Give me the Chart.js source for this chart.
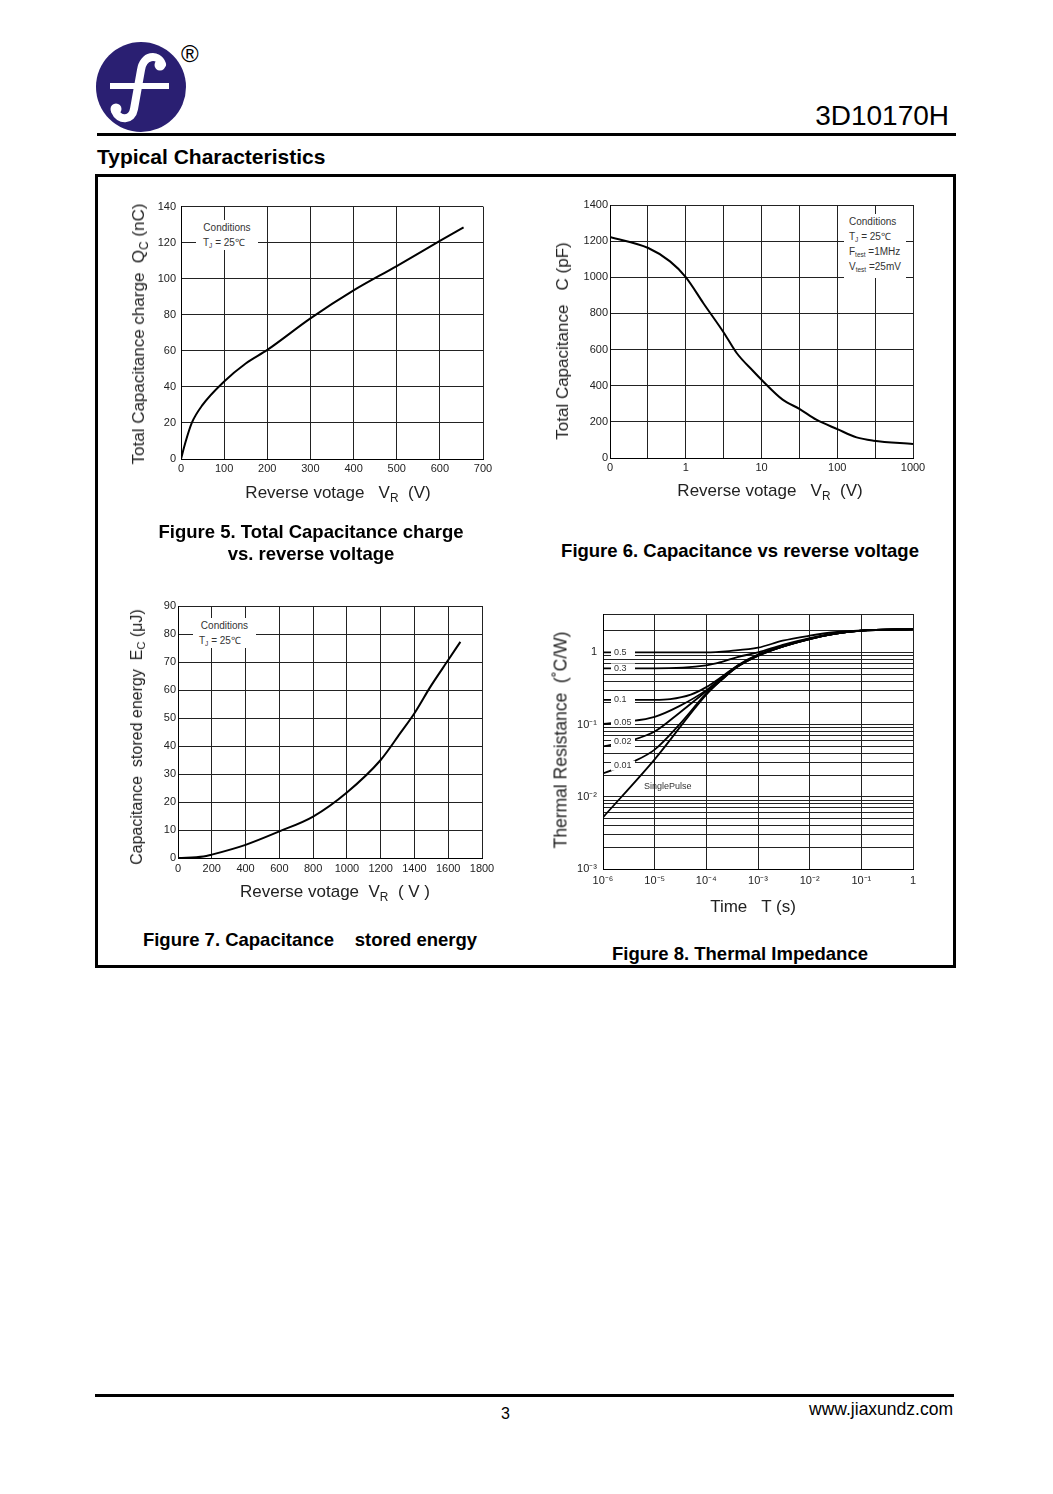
<!DOCTYPE html>
<html>
<head>
<meta charset="utf-8">
<script src="https://cdn.jsdelivr.net/npm/chart.js@4.4.1/dist/chart.umd.min.js"></script>
<style>
body { margin: 0; background: #fff; font-family: "Liberation Sans", Arial, sans-serif; }
#page { position: relative; width: 1053px; height: 1494px; overflow: hidden; background: #fff; }
canvas { position: absolute; }
.t { position: absolute; white-space: nowrap; }
.ytitle { position: absolute; white-space: nowrap; transform: translate(-50%, -50%) rotate(-90deg); color: #222; }
.xtitle { position: absolute; white-space: nowrap; transform: translate(-50%, -50%); color: #222; }
.cap { position: absolute; white-space: nowrap; transform: translate(-50%, -50%); font-weight: bold; font-size: 18.5px; text-align: center; line-height: 22px; color: #000; }
sub { font-size: 70%; vertical-align: -0.3em; line-height: 0; }
.cond { position: absolute; background: #fff; font-size: 10px; color: #333; line-height: 15px; white-space: nowrap; }
.cond sub { font-size: 65%; }
.rule { position: absolute; background: #000; }
</style>
</head>
<body>
<div id="page">

  <!-- header -->
  <svg class="t" style="left:96px;top:42px" width="90" height="90" viewBox="0 0 90 90">
    <circle cx="45" cy="45" r="45" fill="#2a1f72"/>
    <path d="M66,22 C62,11 47,13 45,28 L38,67 C36,79 23,79 19,69" fill="none" stroke="#fff" stroke-width="8" stroke-linecap="round"/>
    <circle cx="64" cy="23" r="5.5" fill="#fff"/>
    <circle cx="20" cy="67" r="5.5" fill="#fff"/>
    <rect x="14" y="41" width="59" height="6" fill="#fff"/>
  </svg>
  <div class="t" style="left:181px;top:40px;font-size:24px;line-height:28px;">®</div>
  <div class="t" style="right:104px;top:99px;font-size:28px;line-height:34px;">3D10170H</div>
  <div class="rule" style="left:97px;top:133px;width:859px;height:3px;"></div>
  <div class="t" style="left:97px;top:145px;font-size:21px;line-height:24px;font-weight:bold;">Typical Characteristics</div>

  <!-- frame round the four figures -->
  <div class="t" style="left:95px;top:174px;width:855px;height:788px;border:3px solid #000;"></div>

  <!-- Figure 5 -->
  <canvas id="qcChart" width="360" height="290" style="left:140px;top:195px"></canvas>
  <div class="cond" style="left:196px;top:220px;width:62px;height:30px;">
    <div style="text-align:center">Conditions</div>
    <div style="padding-left:7px">T<sub>J</sub> = 25℃</div>
  </div>
  <div class="ytitle" style="left:139px;top:334px;font-size:17px;">Total Capacitance charge&nbsp; Q<sub>C</sub> (nC)</div>
  <div class="xtitle" style="left:338px;top:493px;font-size:17px;">Reverse votage&nbsp;&nbsp; V<sub>R</sub>&nbsp;&nbsp;(V)</div>
  <div class="cap" style="left:311px;top:543px;">Figure 5. Total Capacitance charge<br>vs. reverse voltage</div>

  <!-- Figure 6 -->
  <canvas id="capChart" width="360" height="290" style="left:570px;top:195px"></canvas>
  <div class="cond" style="left:844px;top:214px;width:62px;height:64px;padding-left:5px;box-sizing:border-box;">
    <div>Conditions</div>
    <div>T<sub>J</sub> = 25℃</div>
    <div>F<sub>test</sub> =1MHz</div>
    <div>V<sub>test</sub> =25mV</div>
  </div>
  <div class="ytitle" style="left:563px;top:341px;font-size:17px;">Total Capacitance&nbsp;&nbsp; C (pF)</div>
  <div class="xtitle" style="left:770px;top:491px;font-size:17px;">Reverse votage&nbsp;&nbsp; V<sub>R</sub>&nbsp;&nbsp;(V)</div>
  <div class="cap" style="left:740px;top:551px;">Figure 6. Capacitance vs reverse voltage</div>

  <!-- Figure 7 -->
  <canvas id="ecChart" width="370" height="290" style="left:130px;top:595px"></canvas>
  <div class="cond" style="left:193px;top:618px;width:63px;height:30px;">
    <div style="text-align:center">Conditions</div>
    <div style="padding-left:6px">T<sub>J</sub> = 25℃</div>
  </div>
  <div class="ytitle" style="left:137px;top:737px;font-size:16px;">Capacitance&nbsp; stored energy&nbsp; E<sub>C</sub> (μJ)</div>
  <div class="xtitle" style="left:335px;top:892px;font-size:17px;">Reverse votage&nbsp; V<sub>R</sub>&nbsp; ( V )</div>
  <div class="cap" style="left:310px;top:940px;">Figure 7. Capacitance&nbsp;&nbsp;&nbsp; stored energy</div>

  <!-- Figure 8 -->
  <canvas id="zthChart" width="370" height="300" style="left:560px;top:600px"></canvas>
  <div class="ytitle" style="left:561px;top:740px;font-size:17.5px;">Thermal Resistance&nbsp; (˚C/W)</div>
  <div class="xtitle" style="left:753px;top:907px;font-size:17px;">Time&nbsp;&nbsp; T (s)</div>
  <div class="cap" style="left:740px;top:954px;">Figure 8. Thermal Impedance</div>

  <!-- footer -->
  <div class="rule" style="left:95px;top:1394px;width:859px;height:3px;"></div>
  <div class="t" style="left:501px;top:1404px;font-size:16px;line-height:20px;">3</div>
  <div class="t" style="right:100px;top:1398px;font-size:17.5px;line-height:22px;">www.jiaxundz.com</div>
</div>

<script>
// Figure 5: total capacitance charge vs reverse voltage
const qcVolt   = [0, 10, 25, 50, 100, 150, 200, 300, 400, 500, 600, 655];
const qcCharge = [0, 9, 20, 30, 43, 53, 60.5, 78, 93.5, 107, 121, 128.5];

// Figure 6: capacitance vs reverse voltage (log axis, "0" sits at the left end)
const capVolt  = [0, 0.32, 0.62, 1, 1.7, 3.2, 4.7, 7.8, 10, 19, 32, 53, 100, 180, 300, 1000];
const capPf    = [1223, 1162, 1088, 1001, 858, 692, 581, 480, 433, 323, 271, 212, 160, 114, 96, 77];
const capTicks      = [0.1, 0.316, 1, 3.16, 10, 31.6, 100, 316, 1000];
const capTickLabels = ['0', '', '1', '', '10', '', '100', '', '1000'];

// Figure 7: capacitance stored energy
const ecVolt   = [0, 150, 200, 400, 600, 800, 1000, 1200, 1315, 1400, 1495, 1600, 1672];
const ecEnergy = [0, 0.5, 1.2, 4.7, 9.5, 14.8, 23.4, 35, 44.5, 51.7, 61.2, 70.7, 77.2];

// Figure 8: transient thermal impedance, one curve per duty cycle
const dutyLabels = ['0.5', '0.3', '0.1', '0.05', '0.02', '0.01'];
const z05T  = [1e-6, 1e-5, 1e-4, 3e-4, 1e-3, 3e-3, 1e-2, 3e-2, 0.1, 1];
const z05V  = [1.0, 1.0, 1.0, 1.05, 1.16, 1.45, 1.70, 1.90, 2.02, 2.1];
const z03T  = [1e-6, 1e-5, 1e-4, 2e-4, 4e-4, 1e-3, 3e-3, 1e-2, 3e-2, 0.1, 1];
const z03V  = [0.6, 0.6, 0.66, 0.74, 0.86, 1.0, 1.27, 1.58, 1.83, 2.0, 2.1];
const z01T  = [1e-6, 1e-5, 2e-5, 5e-5, 1e-4, 2e-4, 4e-4, 1e-3, 3e-3, 1e-2, 3e-2, 0.1, 1];
const z01V  = [0.22, 0.22, 0.225, 0.26, 0.33, 0.46, 0.66, 0.93, 1.22, 1.55, 1.81, 2.0, 2.1];
const z005T = [1e-6, 3e-6, 1e-5, 3e-5, 1e-4, 2e-4, 4e-4, 1e-3, 3e-3, 1e-2, 3e-2, 0.1, 1];
const z005V = [0.102, 0.11, 0.128, 0.18, 0.30, 0.45, 0.65, 0.92, 1.21, 1.54, 1.8, 2.0, 2.1];
const z002T = [1e-6, 4e-6, 1e-5, 3e-5, 1e-4, 2e-4, 4e-4, 1e-3, 3e-3, 1e-2, 3e-2, 0.1, 1];
const z002V = [0.05, 0.062, 0.08, 0.145, 0.29, 0.43, 0.64, 0.91, 1.2, 1.53, 1.8, 2.0, 2.1];
const z001T = [1e-6, 4e-6, 1e-5, 3e-5, 1e-4, 2e-4, 4e-4, 1e-3, 3e-3, 1e-2, 3e-2, 0.1, 1];
const z001V = [0.021, 0.031, 0.045, 0.1, 0.27, 0.42, 0.63, 0.9, 1.2, 1.53, 1.8, 2.0, 2.1];
const spT   = [1e-6, 1e-5, 1e-4, 2e-4, 4e-4, 1e-3, 3e-3, 1e-2, 3e-2, 0.1, 1];
const spV   = [0.0052, 0.033, 0.26, 0.42, 0.63, 0.89, 1.2, 1.52, 1.8, 1.98, 2.1];
const zthXTicks  = [1e-6, 1e-5, 1e-4, 1e-3, 1e-2, 1e-1, 1];
const zthXLabels = ['10⁻⁶', '10⁻⁵', '10⁻⁴', '10⁻³', '10⁻²', '10⁻¹', '1'];
const zthYMajor  = [0.001, 0.01, 0.1, 1];
const zthYLabels = ['10⁻³', '10⁻²', '10⁻¹', '1'];
const zthYTop    = 3.4;

const FONT = '"Liberation Sans", Arial, sans-serif';
const tickFont = { family: FONT, size: 11 };
const grid = { color: '#222', lineWidth: 1, drawTicks: false };
const border = { color: '#000', width: 1 };
const plain = v => String(v);   // no thousands separators

function pts(xs, ys) { return xs.map((x, i) => ({ x, y: ys[i] })); }

function lineSet(data, w) {
  return {
    data, borderColor: '#000', borderWidth: w || 2, pointRadius: 0,
    fill: false, cubicInterpolationMode: 'monotone'
  };
}

function baseOpts(pad, xAxis, yAxis) {
  return {
    responsive: false, animation: false,
    layout: { padding: pad },
    plugins: { legend: { display: false }, tooltip: { enabled: false } },
    scales: { x: xAxis, y: yAxis }
  };
}

// Figure 5
new Chart(document.getElementById('qcChart'), {
  type: 'line',
  data: { datasets: [lineSet(pts(qcVolt, qcCharge))] },
  options: baseOpts({ top: 11, right: 17, left: 0, bottom: 0 },
    { type: 'linear', min: 0, max: 700, grid, border,
      ticks: { stepSize: 100, padding: 3, color: '#222', font: tickFont, maxRotation: 0, callback: plain },
      afterFit: s => { s.height = 26; } },
    { type: 'linear', min: 0, max: 140, grid, border,
      ticks: { stepSize: 20, padding: 5, color: '#222', font: tickFont, callback: plain },
      afterFit: s => { s.width = 41; } })
});

// Figure 6
new Chart(document.getElementById('capChart'), {
  type: 'line',
  data: { datasets: [lineSet(pts(capVolt.map(v => v === 0 ? capTicks[0] : v), capPf))] },
  options: baseOpts({ top: 10, right: 17, left: 0, bottom: 0 },
    { type: 'logarithmic', min: 0.1, max: 1000, grid, border,
      afterBuildTicks: s => { s.ticks = capTicks.map(v => ({ value: v })); },
      ticks: { autoSkip: false, padding: 3, color: '#222', font: tickFont, maxRotation: 0,
               callback: (v, i) => capTickLabels[i] },
      afterFit: s => { s.height = 27; } },
    { type: 'linear', min: 0, max: 1400, grid, border,
      ticks: { stepSize: 200, padding: 2, color: '#222', font: tickFont, callback: plain },
      afterFit: s => { s.width = 40; } })
});

// Figure 7
new Chart(document.getElementById('ecChart'), {
  type: 'line',
  data: { datasets: [lineSet(pts(ecVolt, ecEnergy))] },
  options: baseOpts({ top: 11, right: 18, left: 0, bottom: 0 },
    { type: 'linear', min: 0, max: 1800, grid, border,
      ticks: { stepSize: 200, padding: 4, color: '#222', font: tickFont, maxRotation: 0, autoSkip: false, callback: plain },
      afterFit: s => { s.height = 27; } },
    { type: 'linear', min: 0, max: 90, grid, border,
      ticks: { stepSize: 10, padding: 2, color: '#222', font: tickFont, callback: plain },
      afterFit: s => { s.width = 48; } })
});

// Figure 8: duty-cycle labels in white boxes sitting on each curve
function yOnCurve(points, x) {
  for (let i = 1; i < points.length; i++) {
    const a = points[i - 1], b = points[i];
    if (x >= a.x && x <= b.x) return a.y + (b.y - a.y) * (x - a.x) / (b.x - a.x);
  }
  return points[0].y;
}

const dutyLabelPlugin = {
  id: 'dutyLabels',
  afterDatasetsDraw(chart) {
    const ctx = chart.ctx, area = chart.chartArea;
    ctx.save();
    ctx.font = '9px ' + FONT;
    ctx.textBaseline = 'middle';
    dutyLabels.forEach((lab, i) => {
      const p = chart.getDatasetMeta(i).data;
      const bx = area.left + 8;
      const y = yOnCurve(p, bx + 12);
      ctx.fillStyle = '#fff';
      ctx.fillRect(bx, y - 5, 24, 10);
      ctx.fillStyle = '#333';
      ctx.fillText(lab, bx + 3, y);
    });
    ctx.fillText('SinglePulse', area.left + 41, area.top + 173);
    ctx.restore();
  }
};

// log grid: 1..9 in every decade, plus 2 and the top edge
const zthYGrid = [];
[0.001, 0.01, 0.1].forEach(d => { for (let m = 1; m <= 9; m++) zthYGrid.push(+(m * d).toPrecision(3)); });
zthYGrid.push(1, 2, zthYTop);

new Chart(document.getElementById('zthChart'), {
  type: 'line',
  data: { datasets: [
    lineSet(pts(z05T, z05V), 1.8),
    lineSet(pts(z03T, z03V), 1.8),
    lineSet(pts(z01T, z01V), 1.8),
    lineSet(pts(z005T, z005V), 1.8),
    lineSet(pts(z002T, z002V), 1.8),
    lineSet(pts(z001T, z001V), 1.8),
    lineSet(pts(spT, spV), 1.8)
  ] },
  plugins: [dutyLabelPlugin],
  options: baseOpts({ top: 14, right: 17, left: 0, bottom: 0 },
    { type: 'logarithmic', min: 1e-6, max: 1, grid, border,
      afterBuildTicks: s => { s.ticks = zthXTicks.map(v => ({ value: v })); },
      ticks: { autoSkip: false, padding: 5, color: '#222', font: tickFont, maxRotation: 0,
               callback: (v, i) => zthXLabels[i] },
      afterFit: s => { s.height = 31; } },
    { type: 'logarithmic', min: 0.001, max: zthYTop, grid, border,
      afterBuildTicks: s => { s.ticks = zthYGrid.map(v => ({ value: v })); },
      ticks: { autoSkip: false, padding: 6, color: '#222', font: tickFont,
               callback: v => {
                 const k = zthYMajor.findIndex(m => Math.abs(m - v) < m * 1e-6);
                 return k < 0 ? '' : zthYLabels[k];
               } },
      afterFit: s => { s.width = 43; } })
});
</script>
</body>
</html>
